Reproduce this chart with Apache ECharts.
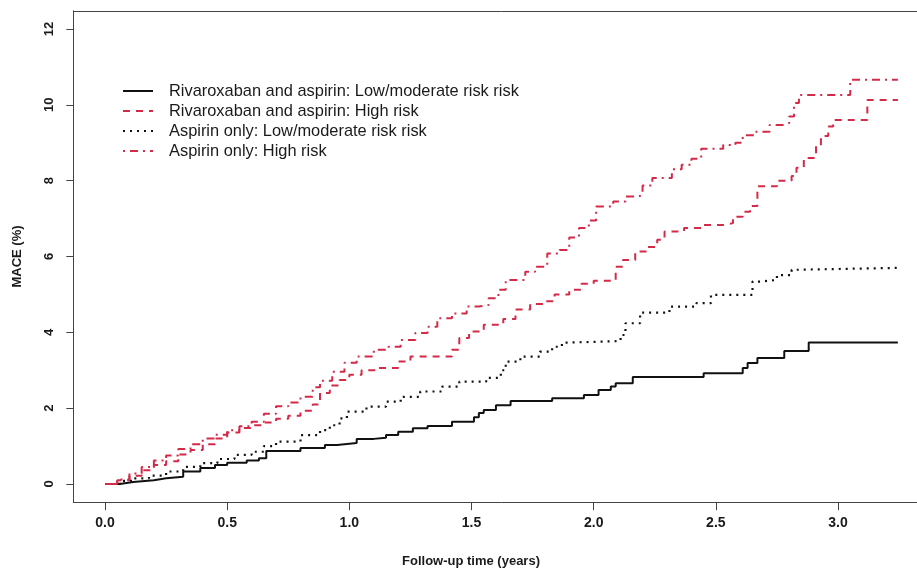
<!DOCTYPE html>
<html>
<head>
<meta charset="utf-8">
<script src="https://cdn.jsdelivr.net/npm/echarts@6/dist/echarts.min.js"></script>
<style>
html,body{margin:0;padding:0;background:#fff;overflow:hidden;width:917px;height:570px;}
#chart{width:950px;height:570px;}
</style>
</head>
<body>
<div id="chart"></div>
<script>
// ---- data ----
var seriesNames = [
  'Rivaroxaban and aspirin: Low/moderate risk risk',
  'Rivaroxaban and aspirin: High risk',
  'Aspirin only: Low/moderate risk risk',
  'Aspirin only: High risk'
];
var xTicks = [0, 0.5, 1.0, 1.5, 2.0, 2.5, 3.0];
var yTicks = [0, 2, 4, 6, 8, 10, 12];

// Rivaroxaban and aspirin: Low/moderate risk
var rivLowT = [0,0.06,0.115,0.2,0.25,0.32,0.39,0.45,0.5,0.58,0.63,0.66,0.8,0.9,0.95,1.03,1.1,1.15,1.2,1.26,1.32,1.42,1.51,1.53,1.55,1.6,1.66,1.83,1.96,2.02,2.07,2.09,2.16,2.45,2.61,2.63,2.67,2.78,2.88,3.245];
var rivLowV = [0,0.05,0.1,0.15,0.19,0.33,0.42,0.5,0.56,0.62,0.68,0.87,0.95,1.03,1.08,1.19,1.22,1.29,1.38,1.47,1.53,1.64,1.76,1.87,1.95,2.08,2.19,2.26,2.35,2.48,2.57,2.66,2.82,2.92,3.06,3.19,3.32,3.51,3.73,3.73];

// Rivaroxaban and aspirin: High risk
var rivHighT = [0,0.05,0.1,0.15,0.2,0.25,0.3,0.35,0.4,0.45,0.5,0.55,0.6,0.65,0.7,0.75,0.8,0.85,0.88,0.92,0.96,1.0,1.05,1.11,1.2,1.25,1.42,1.45,1.49,1.55,1.63,1.68,1.74,1.8,1.84,1.9,1.95,2.0,2.09,2.12,2.17,2.22,2.26,2.29,2.37,2.44,2.53,2.57,2.61,2.64,2.67,2.75,2.81,2.83,2.86,2.91,2.93,2.96,2.98,3.12,3.245];
var rivHighV = [0,0.1,0.22,0.36,0.5,0.6,0.78,0.9,1.05,1.2,1.36,1.48,1.55,1.62,1.72,1.8,1.93,2.1,2.4,2.6,2.74,2.88,3.0,3.06,3.23,3.36,3.54,3.85,4.02,4.2,4.35,4.6,4.75,4.82,5.0,5.12,5.28,5.36,5.73,5.91,6.13,6.25,6.44,6.66,6.75,6.83,6.88,7.05,7.18,7.33,7.85,8.0,8.12,8.34,8.6,8.92,9.18,9.43,9.6,10.13,10.13];

// Aspirin only: Low/moderate risk
var aspLowT = [0,0.06,0.115,0.18,0.25,0.32,0.39,0.46,0.53,0.6,0.65,0.7,0.8,0.88,0.92,0.96,0.99,1.07,1.15,1.21,1.29,1.38,1.45,1.56,1.62,1.64,1.7,1.78,1.83,1.87,1.9,2.11,2.13,2.19,2.31,2.42,2.48,2.65,2.68,2.75,2.81,2.83,3.245];
var aspLowV = [0,0.08,0.15,0.22,0.33,0.45,0.55,0.66,0.77,0.85,1.0,1.12,1.29,1.42,1.55,1.73,1.91,2.04,2.17,2.3,2.44,2.57,2.7,2.8,3.0,3.23,3.36,3.49,3.62,3.73,3.77,3.93,4.24,4.52,4.68,4.77,4.99,5.34,5.38,5.51,5.65,5.7,5.7];

// Aspirin only: High risk
var aspHighT = [0,0.05,0.1,0.15,0.2,0.25,0.3,0.35,0.4,0.45,0.5,0.55,0.6,0.65,0.7,0.75,0.8,0.85,0.88,0.93,0.98,1.03,1.1,1.16,1.21,1.27,1.32,1.36,1.42,1.48,1.53,1.57,1.61,1.64,1.72,1.76,1.81,1.86,1.9,1.94,1.98,2.01,2.08,2.13,2.18,2.2,2.24,2.32,2.36,2.4,2.44,2.53,2.58,2.61,2.66,2.72,2.78,2.8,2.82,2.84,3.05,3.245];
var aspHighV = [0,0.12,0.28,0.45,0.62,0.75,0.92,1.05,1.2,1.3,1.42,1.52,1.64,1.85,2.05,2.15,2.3,2.55,2.72,2.96,3.2,3.36,3.54,3.62,3.8,3.98,4.15,4.37,4.5,4.68,4.72,4.9,5.12,5.38,5.6,5.73,6.08,6.17,6.5,6.75,6.95,7.32,7.45,7.58,7.62,7.87,8.07,8.3,8.42,8.58,8.84,8.94,9.0,9.2,9.29,9.47,9.52,9.69,10.05,10.26,10.66,10.66];

function pairs(t, v){ return t.map(function(x,i){ return [x, v[i]]; }); }

var RED = '#d42a48';
var BLK = '#111111';
var AX = '#444444';
var FONT = '"Liberation Sans", Arial, sans-serif';

var chart = echarts.init(document.getElementById('chart'), null, {renderer:'canvas'});

function mk(name, t, v, color, type, width){
  return {
    name: name, type: 'line', step: 'end',
    data: pairs(t, v),
    symbol: 'none', showSymbol: false,
    lineStyle: {color: color, width: width, type: type, cap: 'butt'},
    itemStyle: {color: color},
    animation: false, silent: true
  };
}

var XMIN = -0.1298, XMAX = 3.3748, YMIN = -0.48, YMAX = 12.48;

chart.setOption({
  backgroundColor: '#ffffff',
  animation: false,
  grid: {
    left: 73.3, top: 10.8, width: 856.3, height: 491.4, show: false
  },
  legend: {
    orient: 'vertical', left: 122, top: 83, padding: 0,
    itemWidth: 30, itemHeight: 14, itemGap: 4,
    itemStyle: {color: 'rgba(0,0,0,0)', borderColor: 'rgba(0,0,0,0)', borderWidth: 0},
    textStyle: {fontFamily: FONT, fontSize: 16.4, color: '#1a1a1a', padding: [0,0,0,11]},
    data: seriesNames
  },
  graphic: [{
    type: 'text', x: 471, y: 561,
    style: {text: 'Follow-up time (years)', fontFamily: FONT, fontSize: 13, fontWeight: 'bold',
      fill: '#1a1a1a', align: 'center', verticalAlign: 'middle'}
  }],
  xAxis: [{
    type: 'value', min: XMIN, max: XMAX, position: 'bottom',
    axisLine: {show: true, onZero: false, lineStyle: {color: AX, width: 1}},
    splitLine: {show: false},
    axisTick: {show: true, inside: false, length: 8, customValues: xTicks, lineStyle: {color: AX, width: 1}},
    axisLabel: {show: true, customValues: xTicks, margin: 14, fontFamily: FONT, fontSize: 14, fontWeight: 'bold', color: '#1a1a1a',
      formatter: function(v){ return v.toFixed(1); }}
  }, {
    type: 'value', min: XMIN, max: XMAX, position: 'top',
    axisLine: {show: true, onZero: false, lineStyle: {color: AX, width: 1}},
    splitLine: {show: false}, axisTick: {show: false}, axisLabel: {show: false}
  }],
  yAxis: {
    type: 'value', min: YMIN, max: YMAX,
    axisLine: {show: true, onZero: false, lineStyle: {color: AX, width: 1}},
    splitLine: {show: false},
    axisTick: {show: true, inside: false, length: 7, customValues: yTicks, lineStyle: {color: AX, width: 1}},
    axisLabel: {show: true, customValues: yTicks, rotate: 90, margin: 17, fontFamily: FONT, fontSize: 13, fontWeight: 'bold', color: '#1a1a1a'},
    name: 'MACE (%)', nameLocation: 'middle', nameGap: 49, nameRotate: 90,
    nameTextStyle: {fontFamily: FONT, fontSize: 13, fontWeight: 'bold', color: '#1a1a1a'}
  },
  series: [
    mk(seriesNames[0], rivLowT, rivLowV, BLK, 'solid', 2),
    mk(seriesNames[1], rivHighT, rivHighV, RED, [7,6], 2),
    mk(seriesNames[2], aspLowT, aspLowV, BLK, [2,5], 2.2),
    mk(seriesNames[3], aspHighT, aspHighV, RED, [2,5,8,5], 2)
  ]
});
</script>
</body>
</html>
